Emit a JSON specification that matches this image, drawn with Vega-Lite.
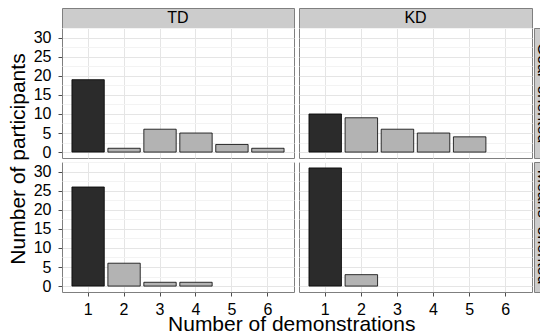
{
  "$schema": "https://vega.github.io/schema/vega-lite/v6.json",
  "padding": {"left": 0, "top": 7, "right": 0, "bottom": 0},
  "background": "white",
  "title": {"text": "Number of demonstrations", "orient": "bottom", "anchor": "middle", "frame": "bounds", "fontSize": 21, "fontWeight": "normal", "font": "Liberation Sans", "color": "#000", "offset": -4, "dx": 19},
  "datasets": {
    "bars": [
      {"method": "TD", "orient": "Goal", "demos": 1, "count": 19},
      {"method": "TD", "orient": "Goal", "demos": 2, "count": 1},
      {"method": "TD", "orient": "Goal", "demos": 3, "count": 6},
      {"method": "TD", "orient": "Goal", "demos": 4, "count": 5},
      {"method": "TD", "orient": "Goal", "demos": 5, "count": 2},
      {"method": "TD", "orient": "Goal", "demos": 6, "count": 1},
      {"method": "KD", "orient": "Goal", "demos": 1, "count": 10},
      {"method": "KD", "orient": "Goal", "demos": 2, "count": 9},
      {"method": "KD", "orient": "Goal", "demos": 3, "count": 6},
      {"method": "KD", "orient": "Goal", "demos": 4, "count": 5},
      {"method": "KD", "orient": "Goal", "demos": 5, "count": 4},
      {"method": "TD", "orient": "Means", "demos": 1, "count": 26},
      {"method": "TD", "orient": "Means", "demos": 2, "count": 6},
      {"method": "TD", "orient": "Means", "demos": 3, "count": 1},
      {"method": "TD", "orient": "Means", "demos": 4, "count": 1},
      {"method": "KD", "orient": "Means", "demos": 1, "count": 31},
      {"method": "KD", "orient": "Means", "demos": 2, "count": 3}
    ],
    "blank": [{"label": ""}]
  },
  "config": {
    "font": "Liberation Sans",
    "view": {"stroke": "#7f7f7f", "strokeWidth": 1},
    "axis": {"labelFont": "Liberation Sans", "labelFontSize": 16, "labelColor": "#000", "tickColor": "#4d4d4d", "domain": false, "labelOverlap": false, "gridWidth": 1}
  },
  "spacing": 0,
  "hconcat": [
    {
      "spacing": 2,
      "hconcat": [
        {
          "width": 30, "height": 302,
          "view": {"stroke": null},
          "data": {"values": [{"label": "Number of participants"}]},
          "mark": {"type": "text", "fontSize": 21, "angle": 270, "dy": 4, "baseline": "middle", "align": "center", "color": "#000"},
          "encoding": {"text": {"field": "label"}}
        },
        {
          "spacing": 3,
          "hconcat": [
            {
              "bounds": "flush",
              "spacing": 0,
              "vconcat": [
                {
                  "width": 232, "height": 20,
                  "view": {"fill": "#cccccc", "stroke": "#7f7f7f"},
                  "data": {"values": [{"label": "TD"}]},
                  "mark": {"type": "text", "fontSize": 16, "baseline": "middle", "align": "center", "color": "#000"},
                  "encoding": {"text": {"field": "label"}}
                },
                {
                  "width": 232, "height": 130,
                  "data": {"name": "bars"},
                  "transform": [{"filter": "datum.method === 'TD' && datum.orient === 'Goal'"}],
                  "mark": {"type": "bar", "stroke": "#000", "strokeWidth": 0.8},
                  "encoding": {
                    "x": {"field": "demos", "type": "ordinal", "scale": {"domain": [1, 2, 3, 4, 5, 6], "paddingInner": 0.1, "paddingOuter": 0.276}, "axis": {"title": null, "grid": true, "gridColor": "#e5e5e5", "labels": false, "ticks": false, "domain": false}},
                    "y": {"field": "count", "type": "quantitative", "scale": {"domain": [-1.55, 32.55], "nice": false, "zero": false}, "axis": {"title": null, "values": [0, 2.5, 5, 7.5, 10, 12.5, 15, 17.5, 20, 22.5, 25, 27.5, 30, 32.5], "grid": true, "gridColor": {"condition": {"test": "datum.value % 5 === 0", "value": "#e5e5e5"}, "value": "#f3f3f3"}, "tickOpacity": {"condition": {"test": "datum.value % 5 === 0", "value": 1}, "value": 0}, "labelExpr": "datum.value % 5 === 0 ? datum.label : ''", "tickSize": 4, "labelPadding": 7}},
                    "fill": {"condition": {"test": "datum.demos === 1", "value": "#2b2b2b"}, "value": "#b3b3b3"}
                  }
                },
                {
                  "width": 232, "height": 4,
                  "view": {"stroke": null},
                  "data": {"name": "blank"},
                  "mark": {"type": "text"},
                  "encoding": {"text": {"field": "label"}}
                },
                {
                  "width": 232, "height": 130,
                  "data": {"name": "bars"},
                  "transform": [{"filter": "datum.method === 'TD' && datum.orient === 'Means'"}],
                  "mark": {"type": "bar", "stroke": "#000", "strokeWidth": 0.8},
                  "encoding": {
                    "x": {"field": "demos", "type": "ordinal", "scale": {"domain": [1, 2, 3, 4, 5, 6], "paddingInner": 0.1, "paddingOuter": 0.276}, "axis": {"title": null, "grid": true, "gridColor": "#e5e5e5", "labelAngle": 0, "tickSize": 4, "labelPadding": 5, "domain": false}},
                    "y": {"field": "count", "type": "quantitative", "scale": {"domain": [-1.55, 32.55], "nice": false, "zero": false}, "axis": {"title": null, "values": [0, 2.5, 5, 7.5, 10, 12.5, 15, 17.5, 20, 22.5, 25, 27.5, 30, 32.5], "grid": true, "gridColor": {"condition": {"test": "datum.value % 5 === 0", "value": "#e5e5e5"}, "value": "#f3f3f3"}, "tickOpacity": {"condition": {"test": "datum.value % 5 === 0", "value": 1}, "value": 0}, "labelExpr": "datum.value % 5 === 0 ? datum.label : ''", "tickSize": 4, "labelPadding": 7}},
                    "fill": {"condition": {"test": "datum.demos === 1", "value": "#2b2b2b"}, "value": "#b3b3b3"}
                  }
                }
              ]
            },
            {
              "bounds": "flush",
              "spacing": 0,
              "vconcat": [
                {
                  "width": 233, "height": 20,
                  "view": {"fill": "#cccccc", "stroke": "#7f7f7f"},
                  "data": {"values": [{"label": "KD"}]},
                  "mark": {"type": "text", "fontSize": 16, "baseline": "middle", "align": "center", "color": "#000"},
                  "encoding": {"text": {"field": "label"}}
                },
                {
                  "width": 233, "height": 130,
                  "data": {"name": "bars"},
                  "transform": [{"filter": "datum.method === 'KD' && datum.orient === 'Goal'"}],
                  "mark": {"type": "bar", "stroke": "#000", "strokeWidth": 0.8},
                  "encoding": {
                    "x": {"field": "demos", "type": "ordinal", "scale": {"domain": [1, 2, 3, 4, 5, 6], "paddingInner": 0.1, "paddingOuter": 0.276}, "axis": {"title": null, "grid": true, "gridColor": "#e5e5e5", "labels": false, "ticks": false, "domain": false}},
                    "y": {"field": "count", "type": "quantitative", "scale": {"domain": [-1.55, 32.55], "nice": false, "zero": false}, "axis": {"title": null, "values": [0, 2.5, 5, 7.5, 10, 12.5, 15, 17.5, 20, 22.5, 25, 27.5, 30, 32.5], "grid": true, "gridColor": {"condition": {"test": "datum.value % 5 === 0", "value": "#e5e5e5"}, "value": "#f3f3f3"}, "labels": false, "ticks": false}},
                    "fill": {"condition": {"test": "datum.demos === 1", "value": "#2b2b2b"}, "value": "#b3b3b3"}
                  }
                },
                {
                  "width": 233, "height": 4,
                  "view": {"stroke": null},
                  "data": {"name": "blank"},
                  "mark": {"type": "text"},
                  "encoding": {"text": {"field": "label"}}
                },
                {
                  "width": 233, "height": 130,
                  "data": {"name": "bars"},
                  "transform": [{"filter": "datum.method === 'KD' && datum.orient === 'Means'"}],
                  "mark": {"type": "bar", "stroke": "#000", "strokeWidth": 0.8},
                  "encoding": {
                    "x": {"field": "demos", "type": "ordinal", "scale": {"domain": [1, 2, 3, 4, 5, 6], "paddingInner": 0.1, "paddingOuter": 0.276}, "axis": {"title": null, "grid": true, "gridColor": "#e5e5e5", "labelAngle": 0, "tickSize": 4, "labelPadding": 5, "domain": false}},
                    "y": {"field": "count", "type": "quantitative", "scale": {"domain": [-1.55, 32.55], "nice": false, "zero": false}, "axis": {"title": null, "values": [0, 2.5, 5, 7.5, 10, 12.5, 15, 17.5, 20, 22.5, 25, 27.5, 30, 32.5], "grid": true, "gridColor": {"condition": {"test": "datum.value % 5 === 0", "value": "#e5e5e5"}, "value": "#f3f3f3"}, "labels": false, "ticks": false}},
                    "fill": {"condition": {"test": "datum.demos === 1", "value": "#2b2b2b"}, "value": "#b3b3b3"}
                  }
                }
              ]
            }
          ]
        }
      ]
    },
    {
      "bounds": "flush",
      "spacing": 0,
      "vconcat": [
        {
          "width": 11, "height": 20,
          "view": {"stroke": null},
          "data": {"name": "blank"},
          "mark": {"type": "text"},
          "encoding": {"text": {"field": "label"}}
        },
        {
          "width": 11, "height": 130,
          "view": {"fill": "#cccccc", "stroke": "#7f7f7f"},
          "data": {"values": [{"label": "Goal–oriented"}]},
          "mark": {"type": "text", "fontSize": 16, "angle": 90, "dy": -3, "baseline": "middle", "align": "center", "color": "#000", "clip": true},
          "encoding": {"text": {"field": "label"}}
        },
        {
          "width": 11, "height": 4,
          "view": {"stroke": null},
          "data": {"name": "blank"},
          "mark": {"type": "text"},
          "encoding": {"text": {"field": "label"}}
        },
        {
          "width": 11, "height": 130,
          "view": {"fill": "#cccccc", "stroke": "#7f7f7f"},
          "data": {"values": [{"label": "Means–oriented"}]},
          "mark": {"type": "text", "fontSize": 16, "angle": 90, "dy": -3, "baseline": "middle", "align": "center", "color": "#000", "clip": true},
          "encoding": {"text": {"field": "label"}}
        }
      ]
    }
  ]
}
